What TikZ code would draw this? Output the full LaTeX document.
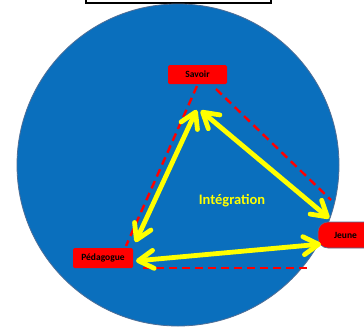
\documentclass[tikz,border=0pt]{standalone}
\usepackage{fontspec}
\setmainfont{Carlito}
\usetikzlibrary{arrows.meta}
\definecolor{disc}{HTML}{0A6FBD}
\definecolor{discedge}{HTML}{4F6E96}
\definecolor{ylw}{HTML}{FFFF00}
\tikzset{
  lbl/.style={fill=red, text=black, font=\bfseries\fontsize{9.5}{11}\selectfont, inner sep=0pt, rounded corners=1.5pt},
  dbl/.style={draw=ylw, line width=4.8pt, {Straight Barb[round,length=15pt,width=18pt]}-{Straight Barb[round,length=15pt,width=18pt]}, shorten <=1pt, shorten >=1pt},
  rdash/.style={draw=red, line width=2.4pt, dash pattern=on 8pt off 5pt},
}
\begin{document}
\begin{tikzpicture}[x=1pt,y=-1pt]
\useasboundingbox (0,0) rectangle (364,330);
\fill[white] (0,0) rectangle (364,330);
% top box
\node[draw=black, line width=1.2pt, fill=white, minimum width=185pt, minimum height=12pt, inner sep=0pt] (topbox) at (178.5,-3) {};
% disc
\node[circle, draw=discedge, line width=0.8pt, fill=disc, minimum size=322pt, inner sep=0pt] (disc) at (178,165) {};
% labels
\node[lbl, minimum width=59pt, minimum height=19pt] (savoir) at (197.5,74.5) {Savoir};
\node[lbl, minimum width=60pt, minimum height=20pt] (peda) at (103,258) {Pédagogue};
\node[fill=red, draw=discedge, line width=0.6pt, rounded corners=10pt, minimum width=60pt, minimum height=26pt, inner sep=0pt] (jeunebox) at (348,235) {};
\node[font=\bfseries\fontsize{9.5}{11}\selectfont, inner sep=0pt] (jeune) at (345.5,235) {Jeune};
% dashed lines
\coordinate (d1a) at (197,86);
\coordinate (d1b) at (126,246);
\coordinate (d2a) at (216,89);
\coordinate (d2b) at (331,200);
\coordinate (d3a) at (143,268);
\coordinate (d3b) at (310,268);
\draw[rdash] (d1a) -- (d1b);
\draw[rdash] (d2a) -- (d2b);
\draw[rdash] (d3a) -- (d3b);
% arrows
\coordinate (s1) at (197,109);
\coordinate (p1) at (135,243);
\coordinate (s2) at (200,110);
\coordinate (j2) at (330,219);
\coordinate (p3) at (135,261);
\coordinate (j3) at (322,244);
\draw[dbl] (p1) -- (s1);
\draw[dbl] (s2) -- (j2);
\draw[dbl] (p3) -- (j3);
% text
\node[text=ylw, font=\bfseries\fontsize{14.5}{16}\selectfont, inner sep=0pt] (integ) at (232,201) {Intégration};
\end{tikzpicture}
\end{document}
